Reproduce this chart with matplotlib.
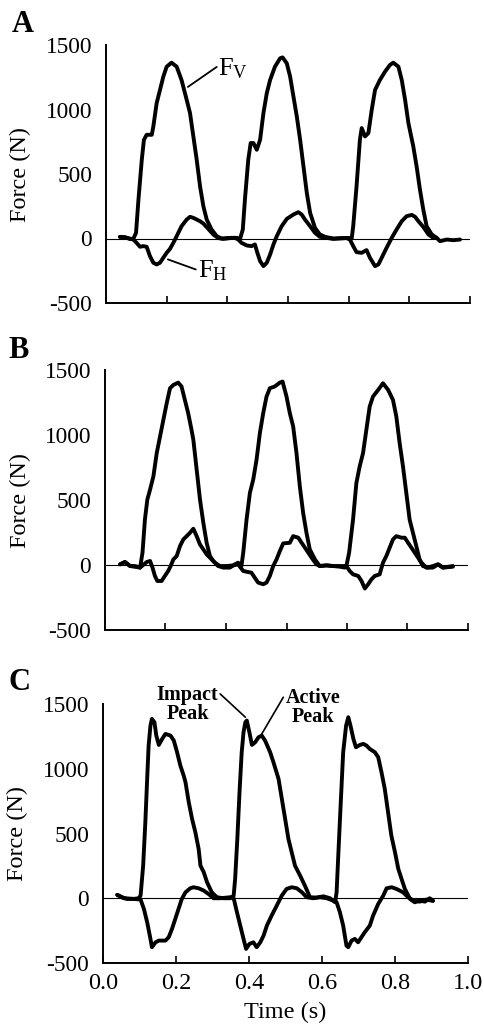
import matplotlib
matplotlib.use("Agg")
import matplotlib.pyplot as plt
from matplotlib.ticker import FormatStrFormatter

plt.rcParams['font.family'] = ['Liberation Serif', 'DejaVu Serif']
plt.rcParams['axes.unicode_minus'] = False
plt.rcParams['mathtext.fontset'] = 'custom'
plt.rcParams['mathtext.rm'] = 'Liberation Serif'

# ---------------- Panel A ----------------
a_t_v = [0.046, 0.063, 0.079, 0.090, 0.099, 0.107, 0.118, 0.125, 0.134, 0.151, 0.156, 0.167, 0.178,
         0.189, 0.200, 0.216, 0.233, 0.249, 0.266, 0.277, 0.288, 0.299, 0.310, 0.321, 0.332, 0.348,
         0.365, 0.381, 0.409, 0.431, 0.442, 0.451, 0.458, 0.469, 0.477, 0.486, 0.497, 0.508, 0.519,
         0.530, 0.541, 0.557, 0.574, 0.582, 0.596, 0.607, 0.618, 0.629, 0.640, 0.651, 0.662, 0.673,
         0.689, 0.705, 0.722, 0.749, 0.771, 0.799, 0.810, 0.815, 0.826, 0.837, 0.843, 0.854, 0.865,
         0.876, 0.887, 0.903, 0.920, 0.936, 0.947, 0.964, 0.975, 0.986, 0.997, 1.013, 1.024, 1.035,
         1.046, 1.057, 1.074, 1.090, 1.101, 1.123, 1.145, 1.167]
a_f_v = [13, 10, -3, -3, 44, 302, 611, 765, 804, 804, 868, 1049, 1152,
         1255, 1332, 1363, 1332, 1229, 1075, 972, 791, 611, 405, 250, 147, 70,
         18, 0, 5, 5, -3, 70, 302, 611, 740, 740, 688, 765, 972,
         1126, 1229, 1332, 1397, 1404, 1358, 1255, 1100, 946, 765, 559, 353, 198,
         82, 31, 13, 0, 0, 5, 0, 95, 405, 765, 856, 791, 817,
         997, 1152, 1229, 1294, 1345, 1363, 1332, 1229, 1075, 894, 714, 559, 379,
         224, 95, 31, 5, -21, -8, -13, -8]
a_t_h = [0.046, 0.068, 0.090, 0.101, 0.112, 0.123, 0.134, 0.145, 0.156, 0.167, 0.178, 0.189, 0.200,
         0.211, 0.222, 0.233, 0.249, 0.266, 0.277, 0.288, 0.299, 0.310, 0.321, 0.337, 0.354, 0.370,
         0.387, 0.409, 0.425, 0.436, 0.447, 0.464, 0.480, 0.491, 0.499, 0.508, 0.519, 0.530, 0.541,
         0.552, 0.563, 0.579, 0.596, 0.618, 0.634, 0.645, 0.656, 0.673, 0.689, 0.705, 0.727, 0.749,
         0.771, 0.793, 0.804, 0.815, 0.826, 0.843, 0.859, 0.870, 0.887, 0.898, 0.909, 0.925, 0.942,
         0.958, 0.975, 0.991, 1.008, 1.019, 1.030, 1.046, 1.063, 1.079, 1.090]
a_f_h = [13, 5, -8, -34, -64, -59, -64, -137, -188, -201, -188, -149, -111,
         -80, -34, 18, 95, 147, 168, 160, 147, 134, 116, 75, 31, 3,
         -3, 3, 5, -8, -34, -54, -59, -46, -111, -175, -214, -188, -124,
         -46, 18, 95, 152, 186, 204, 186, 147, 95, 44, 13, 5, -3,
         3, 3, -8, -59, -106, -111, -90, -149, -214, -201, -149, -72, 5,
         70, 134, 173, 183, 168, 134, 90, 31, 5, 5]

# ---------------- Panel B ----------------
b_t_v = [0.050, 0.066, 0.083, 0.099, 0.116, 0.124, 0.132, 0.140, 0.149, 0.160, 0.171, 0.182, 0.193,
         0.204, 0.215, 0.226, 0.242, 0.253, 0.264, 0.275, 0.286, 0.292, 0.303, 0.314, 0.325, 0.336,
         0.347, 0.358, 0.374, 0.391, 0.413, 0.429, 0.440, 0.451, 0.457, 0.468, 0.479, 0.490, 0.501,
         0.512, 0.523, 0.534, 0.545, 0.561, 0.578, 0.587, 0.600, 0.611, 0.622, 0.633, 0.644, 0.655,
         0.666, 0.677, 0.694, 0.710, 0.732, 0.754, 0.776, 0.793, 0.798, 0.807, 0.820, 0.831, 0.842,
         0.853, 0.864, 0.875, 0.886, 0.903, 0.919, 0.936, 0.952, 0.963, 0.974, 0.985, 0.996, 1.007,
         1.018, 1.029, 1.040, 1.051, 1.068, 1.084, 1.101, 1.117, 1.150]
b_f_v = [5, 23, -8, -8, -20, 95, 350, 504, 580, 682, 861, 989, 1117,
         1245, 1360, 1385, 1403, 1373, 1270, 1168, 1040, 964, 734, 504, 325, 171,
         69, 31, -8, -20, -20, 5, 18, -8, 95, 350, 555, 657, 810,
         1015, 1168, 1296, 1360, 1373, 1403, 1411, 1296, 1168, 1066, 861, 606, 401,
         248, 120, 43, -8, -3, -8, -13, -20, -8, 95, 350, 631, 759,
         861, 1040, 1219, 1296, 1347, 1398, 1347, 1270, 1143, 938, 759, 555, 350,
         248, 146, 43, -8, -20, -8, 5, -20, -8]
b_t_h = [0.050, 0.066, 0.083, 0.116, 0.138, 0.149, 0.157, 0.165, 0.173, 0.187, 0.198, 0.209, 0.217,
         0.226, 0.237, 0.248, 0.259, 0.270, 0.281, 0.292, 0.303, 0.314, 0.325, 0.336, 0.347, 0.363,
         0.380, 0.402, 0.424, 0.440, 0.457, 0.473, 0.484, 0.495, 0.506, 0.523, 0.534, 0.545, 0.556,
         0.567, 0.578, 0.589, 0.611, 0.622, 0.639, 0.650, 0.661, 0.672, 0.683, 0.699, 0.710, 0.732,
         0.754, 0.776, 0.798, 0.809, 0.820, 0.837, 0.848, 0.859, 0.870, 0.881, 0.892, 0.908, 0.919,
         0.930, 0.941, 0.952, 0.963, 0.980, 0.991, 1.002, 1.013, 1.024, 1.035, 1.046, 1.062, 1.084,
         1.101, 1.117, 1.150]
b_f_h = [5, 23, -8, -20, 23, 31, -20, -84, -123, -123, -84, -46, -8,
         43, 69, 146, 197, 222, 248, 279, 222, 158, 120, 82, 56, 18,
         -8, -8, -3, 5, -46, -54, -59, -97, -135, -148, -135, -84, -8,
         43, 107, 166, 171, 222, 210, 171, 133, 95, 56, 5, -8, -3,
         -8, -8, -8, -46, -72, -84, -123, -181, -148, -110, -84, -72, 18,
         69, 133, 197, 222, 210, 210, 171, 133, 95, 56, 18, -20, -20,
         5, -20, -13]

# ---------------- Panel C ----------------
c_t_v = [0.039, 0.052, 0.066, 0.084, 0.098, 0.103, 0.110, 0.116, 0.121, 0.125, 0.130, 0.134, 0.141,
         0.146, 0.153, 0.162, 0.171, 0.185, 0.194, 0.203, 0.212, 0.221, 0.226, 0.235, 0.244, 0.253,
         0.262, 0.267, 0.276, 0.285, 0.298, 0.312, 0.330, 0.349, 0.358, 0.362, 0.368, 0.374, 0.380,
         0.385, 0.390, 0.394, 0.401, 0.408, 0.417, 0.426, 0.435, 0.444, 0.458, 0.467, 0.481, 0.490,
         0.499, 0.508, 0.517, 0.526, 0.540, 0.553, 0.567, 0.585, 0.604, 0.622, 0.636, 0.640, 0.645,
         0.651, 0.658, 0.666, 0.672, 0.678, 0.686, 0.693, 0.704, 0.713, 0.722, 0.731, 0.745, 0.754,
         0.763, 0.772, 0.781, 0.790, 0.800, 0.809, 0.818, 0.827, 0.841, 0.854, 0.868, 0.882, 0.895,
         0.904]
c_f_v = [26, 8, -5, -5, 0, 21, 252, 587, 921, 1179, 1333, 1385, 1359,
         1256, 1184, 1230, 1269, 1256, 1218, 1127, 1024, 947, 896, 741, 613, 510,
         381, 252, 201, 124, 46, 8, 0, 0, 21, 149, 458, 819, 1127,
         1282, 1359, 1372, 1282, 1184, 1205, 1243, 1256, 1218, 1127, 1050, 921, 767,
         613, 458, 355, 252, 175, 98, 8, 5, 15, 0, -31, 46, 355,
         716, 1127, 1333, 1398, 1333, 1230, 1166, 1184, 1192, 1179, 1153, 1127, 1089,
         973, 844, 664, 484, 355, 227, 149, 72, -5, -31, -18, -26, 0,
         -18]
c_t_h = [0.039, 0.057, 0.084, 0.103, 0.112, 0.121, 0.130, 0.134, 0.144, 0.153, 0.171, 0.180, 0.189,
         0.198, 0.207, 0.216, 0.226, 0.239, 0.248, 0.262, 0.276, 0.289, 0.303, 0.321, 0.349, 0.358,
         0.367, 0.376, 0.385, 0.392, 0.401, 0.412, 0.421, 0.431, 0.440, 0.449, 0.462, 0.476, 0.490,
         0.503, 0.517, 0.531, 0.545, 0.558, 0.576, 0.594, 0.613, 0.631, 0.640, 0.649, 0.658, 0.667,
         0.672, 0.681, 0.690, 0.699, 0.708, 0.717, 0.731, 0.740, 0.754, 0.768, 0.777, 0.791, 0.804,
         0.822, 0.836, 0.850, 0.868, 0.886, 0.904]
c_f_h = [26, 0, -5, -10, -82, -185, -314, -378, -340, -327, -327, -301, -237,
         -160, -82, -5, 46, 77, 85, 77, 59, 33, 0, 0, 8, 0,
         -108, -211, -314, -391, -353, -340, -378, -340, -288, -211, -134, -57, 21,
         72, 85, 77, 46, 8, 0, 8, 0, -18, -31, -108, -211, -366,
         -378, -327, -314, -340, -301, -263, -211, -134, -44, 21, 77, 85, 72,
         46, 8, -18, -26, -10, -21]

y_ticks = [-500, 0, 500, 1000, 1500]

W, H = 485, 1025
fig = plt.figure(figsize=(W / 100, H / 100), dpi=100)

# axes boxes in pixels: left, right, top, bottom
boxes = [(106, 470, 45, 303), (105, 468, 370, 630), (103, 468, 704, 963)]
xmaxes = [1.2, 1.2, 1.0]
data = [(a_t_v, a_f_v, a_t_h, a_f_h), (b_t_v, b_f_v, b_t_h, b_f_h), (c_t_v, c_f_v, c_t_h, c_f_h)]
axes = []
for (l, r, t, b), xm, (tv, fv, th, fh) in zip(boxes, xmaxes, data):
    ax = fig.add_axes([l / W, 1 - b / H, (r - l) / W, (b - t) / H])
    ax.axhline(0, color='black', lw=0.8, zorder=1)
    ax.plot(tv, fv, color='black', lw=2.8, solid_joinstyle='round', solid_capstyle='round', zorder=3)
    ax.plot(th, fh, color='black', lw=2.8, solid_joinstyle='round', solid_capstyle='round', zorder=3)
    ax.set_xlim(0, xm)
    ax.set_ylim(-500, 1500)
    ax.set_yticks(y_ticks)
    ax.set_xticks([i * 0.2 for i in range(int(round(xm / 0.2)) + 1)])
    ax.set_yticks([1500], minor=True)
    for s in ['top', 'right']:
        ax.spines[s].set_visible(False)
    for s in ['left', 'bottom']:
        ax.spines[s].set_linewidth(1.4)
    ax.tick_params(axis='x', direction='in', length=5, width=1.2, pad=7, labelsize=17.5)
    ax.tick_params(axis='y', which='major', direction='in', length=0, pad=10, labelsize=16.8)
    ax.tick_params(axis='y', which='minor', direction='in', length=8, width=1.4)
    ax.set_ylabel('Force (N)', fontsize=17.5)
    ax.yaxis.set_label_coords(-0.205, 0.5)
    axes.append(ax)

axes[0].tick_params(axis='x', labelbottom=False)
axes[1].tick_params(axis='x', labelbottom=False)
axes[2].xaxis.set_major_formatter(FormatStrFormatter('%.1f'))
axes[2].set_xlabel('Time (s)', fontsize=17.5)
axes[2].xaxis.set_label_coords(0.5, -0.15)

# Panel A labels
axA = axes[0]
axA.annotate('', xy=(0.270, 1175), xytext=(0.365, 1330),
             arrowprops=dict(arrowstyle='-', lw=1.3, color='black', shrinkA=0, shrinkB=0))
axA.text(0.370, 1262, r'$\mathregular{F_V}$', fontsize=19, ha='left', va='baseline')
axA.annotate('', xy=(0.204, -162), xytext=(0.296, -240),
             arrowprops=dict(arrowstyle='-', lw=1.3, color='black', shrinkA=0, shrinkB=0))
axA.text(0.303, -305, r'$\mathregular{F_H}$', fontsize=19, ha='left', va='baseline')

# Panel C labels
axC = axes[2]
axC.annotate('', xy=(0.390, 1398), xytext=(0.321, 1578),
             arrowprops=dict(arrowstyle='-', lw=1.2, color='black', shrinkA=0, shrinkB=0),
             annotation_clip=False)
axC.text(0.232, 1648, 'Impact\nPeak', fontsize=14.5, fontweight='bold', ha='center', va='top',
         linespacing=0.95, clip_on=False)
axC.annotate('', xy=(0.435, 1269), xytext=(0.494, 1552),
             arrowprops=dict(arrowstyle='-', lw=1.2, color='black', shrinkA=0, shrinkB=0),
             annotation_clip=False)
axC.text(0.576, 1622, 'Active\nPeak', fontsize=14.5, fontweight='bold', ha='center', va='top',
         linespacing=0.95, clip_on=False)

# Panel letters
fig.text(12 / W, 1 - 10 / H, 'A', fontsize=22, fontweight='bold', ha='left', va='top')
fig.text(8 / W, 1 - 336 / H, 'B', fontsize=22, fontweight='bold', ha='left', va='top')
fig.text(8 / W, 1 - 668 / H, 'C', fontsize=22, fontweight='bold', ha='left', va='top')

fig.savefig('out.png', dpi=100)
